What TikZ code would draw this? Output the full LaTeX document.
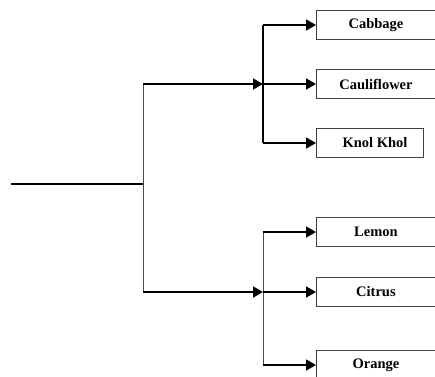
\documentclass[tikz,border=0pt]{standalone}
\usepackage{fontspec}
\setmainfont{Liberation Serif}
\usetikzlibrary{arrows.meta,positioning}

\tikzset{
  itembox/.style={draw=black!75, line width=0.9pt, minimum width=119pt,
    minimum height=29pt, inner sep=0pt, anchor=west,
    font=\fontsize{14.5}{16}\selectfont\bfseries},
  feed/.style={line width=1.8pt, -{Triangle[length=10pt,width=11pt]}},
  trunk/.style={line width=1.8pt},
  thinline/.style={draw=black!70, line width=0.9pt}
}

\begin{document}
\begin{tikzpicture}[x=1pt,y=-1pt]
    \useasboundingbox (0,0) rectangle (435,376);
    \clip (0,0) rectangle (435,376);
    % junction points
    \coordinate (root) at (11,184);
    \coordinate (split) at (143,184);
    \coordinate (uptop) at (143,84);
    \coordinate (lowtop) at (143,292);
    \coordinate (upfork) at (263,84);
    \coordinate (lowfork) at (263,292);
    % vegetables
    \node[itembox] (cabbage) at (316,25) {Cabbage};
    \node[itembox] (cauli) at (316,84) {Cauliflower};
    \node[itembox, minimum width=107pt] (knol) at (316,143) {\hspace*{10pt}Knol Khol};
    % fruits
    \node[itembox] (lemon) at (316,232) {Lemon};
    \node[itembox] (citrus) at (316,292) {Citrus};
    \node[itembox] (orange) at (316,365) {Orange};
    % main stem
    \draw[trunk] (root) -- (split);
    \draw[thinline] (uptop) -- (lowtop);
    \draw[feed] (uptop) -- (upfork);
    \draw[feed] (lowtop) -- (lowfork);
    % upper fork
    \draw[trunk] (upfork |- cabbage.west) -- (upfork |- knol.west);
    \draw[feed] (upfork |- cabbage.west) -- (cabbage.west);
    \draw[feed] (upfork) -- (cauli.west);
    \draw[feed] (upfork |- knol.west) -- (knol.west);
    % lower fork
    \draw[thinline] (lowfork |- lemon.west) -- (lowfork |- orange.west);
    \draw[feed] (lowfork |- lemon.west) -- (lemon.west);
    \draw[feed] (lowfork) -- (citrus.west);
    \draw[feed] (lowfork |- orange.west) -- (orange.west);
\end{tikzpicture}
\end{document}
